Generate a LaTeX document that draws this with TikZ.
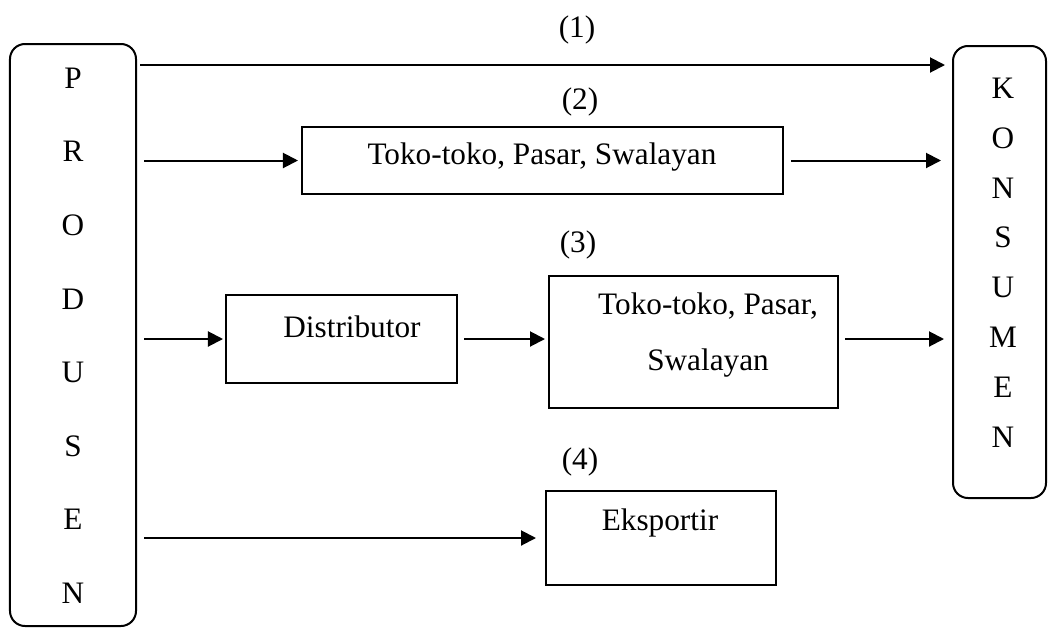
\documentclass[tikz,border=0pt]{standalone}
\usepackage{fontspec}
\setmainfont{Liberation Serif}
\usetikzlibrary{arrows.meta}
\begin{document}
\begin{tikzpicture}[x=0.4pt,y=-0.4pt,
  box/.style={draw,line width=0.8pt,inner sep=0pt},
  rbox/.style={box,rounded corners=6pt},
  lbl/.style={inner sep=0pt,font=\fontsize{12.5}{15}\selectfont},
  arr/.style={line width=0.8pt,-{Triangle[length=6pt,width=6pt]}}]
\useasboundingbox (0,0) rectangle (1048,628);
% main boxes
\node[rbox,minimum width=50.4pt,minimum height=232.8pt] (prod) at (73,335) {};
\node[rbox,minimum width=37.2pt,minimum height=180.8pt] (kons) at (999.5,272) {};
\node[box,minimum width=192.4pt,minimum height=26.8pt] (toko1) at (542.5,160.5) {};
\node[box,minimum width=92.4pt,minimum height=35.2pt] (dist) at (341.5,339) {};
\node[box,minimum width=115.6pt,minimum height=52.8pt] (toko2) at (693.5,342) {};
\node[box,minimum width=92pt,minimum height=37.6pt] (eks) at (661,538) {};
% vertical letters
\foreach \l [count=\i from 0] in {P,R,O,D,U,S,E,N}
  \node[lbl] (p\i) at (73,78+73.6*\i) {\l};
\foreach \l [count=\i from 0] in {K,O,N,S,U,M,E,N}
  \node[lbl] (k\i) at (1003,88+49.9*\i) {\l};
% texts
\node[lbl] (t1) at (542,157) {Toko-toko, Pasar, Swalayan};
\node[lbl] (t2) at (352,327) {Distributor};
\node[lbl,align=center,font=\fontsize{12.5}{22.4}\selectfont] (t3) at (708,335) {Toko-toko, Pasar,\\Swalayan};
\node[lbl] (t4) at (660,523) {Eksportir};
\node[lbl] (n1) at (577,30) {(1)};
\node[lbl] (n2) at (580,102) {(2)};
\node[lbl] (n3) at (578,245) {(3)};
\node[lbl] (n4) at (580,462) {(4)};
% connectors
\coordinate (r1) at (0,65);
\draw[arr,shorten <=1.2pt,shorten >=2.8pt] (prod.east |- r1) -- (kons.west |- r1);
\draw[arr,shorten <=2.8pt,shorten >=1.2pt] (prod.east |- toko1) -- (toko1.west);
\draw[arr,shorten <=2.8pt,shorten >=4.4pt] (toko1.east) -- (kons.west |- toko1);
\draw[arr,shorten <=2.8pt,shorten >=0.8pt] (prod.east |- dist) -- (dist.west);
\draw[arr,shorten <=2.4pt,shorten >=1.2pt] (dist.east) -- (toko2.west |- dist);
\draw[arr,shorten <=2.4pt,shorten >=3.2pt] (toko2.east |- dist) -- (kons.west |- dist);
\draw[arr,shorten <=2.8pt,shorten >=3.6pt] (prod.east |- eks) -- (eks.west);
\end{tikzpicture}
\end{document}
